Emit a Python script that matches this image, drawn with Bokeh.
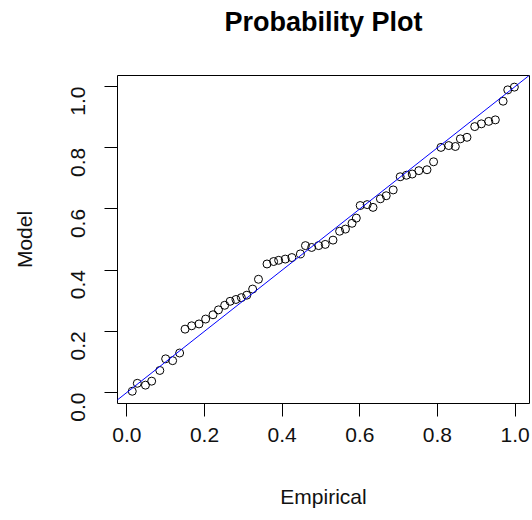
from bokeh.plotting import figure
from bokeh.models import Range1d, FixedTicker, Slope, ColumnDataSource, LinearAxis
from bokeh.embed import file_html
from bokeh.resources import INLINE
import math

empirical = [0.014, 0.027, 0.048, 0.064, 0.085, 0.100, 0.118, 0.136, 0.150, 0.167,
             0.186, 0.203, 0.222, 0.236, 0.252, 0.266, 0.281, 0.295, 0.309, 0.324,
             0.339, 0.361, 0.378, 0.391, 0.408, 0.425, 0.447, 0.460, 0.476, 0.494,
             0.511, 0.531, 0.548, 0.563, 0.580, 0.591, 0.601, 0.619, 0.634, 0.653,
             0.668, 0.686, 0.704, 0.720, 0.735, 0.752, 0.773, 0.790, 0.809, 0.829,
             0.846, 0.859, 0.876, 0.896, 0.913, 0.932, 0.949, 0.969, 0.981, 0.998]
model = [0.004, 0.030, 0.024, 0.037, 0.072, 0.110, 0.104, 0.129, 0.207, 0.218,
         0.224, 0.240, 0.254, 0.270, 0.285, 0.298, 0.304, 0.310, 0.318, 0.338,
         0.370, 0.420, 0.428, 0.432, 0.436, 0.441, 0.453, 0.480, 0.474, 0.480,
         0.484, 0.498, 0.527, 0.534, 0.553, 0.570, 0.611, 0.614, 0.605, 0.633,
         0.643, 0.662, 0.705, 0.710, 0.714, 0.725, 0.728, 0.754, 0.801, 0.807,
         0.804, 0.829, 0.834, 0.869, 0.878, 0.886, 0.891, 0.952, 0.989, 0.998]
ticks = [0.0, 0.2, 0.4, 0.6, 0.8, 1.0]
tick_labels = ["0.0", "0.2", "0.4", "0.6", "0.8", "1.0"]
title_text = "Probability Plot"

FONT = "Liberation Sans"

p = figure(width=532, height=520, output_backend="svg", toolbar_location=None,
           x_range=Range1d(-0.024, 1.037), y_range=Range1d(-0.036, 1.036),
           min_border_left=117, min_border_right=3, min_border_top=75, min_border_bottom=117,
           x_axis_label="Empirical", y_axis_label="Model")

p.background_fill_color = "white"
p.border_fill_color = "white"
p.outline_line_color = "black"
p.outline_line_width = 1
p.grid.visible = False

xb = p.below[0]
yl = p.left[0]

for ax in (xb, yl):
    ax.ticker = FixedTicker(ticks=ticks)
    ax.major_label_overrides = {t: l for t, l in zip(ticks, tick_labels)}
    ax.axis_line_color = None
    ax.major_tick_out = 13
    ax.major_tick_in = 0
    ax.minor_tick_out = 0
    ax.minor_tick_in = 0
    ax.major_tick_line_color = "black"
    ax.major_label_text_font = FONT
    ax.major_label_text_font_size = "21px"
    ax.major_label_text_color = "#111111"
    ax.axis_label_text_font = FONT
    ax.axis_label_text_font_size = "21px"
    ax.axis_label_text_font_style = "normal"
    ax.axis_label_text_color = "#111111"

xb.major_label_standoff = 11
xb.axis_label_standoff = 40
yl.major_label_standoff = 26
yl.axis_label_standoff = 26
yl.major_label_orientation = math.pi / 2

# title drawn as the label of a bare axis above the frame
top = LinearAxis(ticker=FixedTicker(ticks=[]), axis_label=title_text)
top.axis_line_color = None
top.major_tick_out = 0
top.major_tick_in = 0
top.minor_tick_out = 0
top.minor_tick_in = 0
top.major_label_text_alpha = 0
top.axis_label_text_font = FONT
top.axis_label_text_font_size = "27px"
top.axis_label_text_font_style = "bold"
top.axis_label_text_color = "black"
top.axis_label_standoff = 39
p.add_layout(top, "above")

src = ColumnDataSource(dict(x=empirical, y=model))
p.scatter("x", "y", source=src, marker="circle", size=8, fill_color=None,
          line_color="black", line_width=1)

p.add_layout(Slope(gradient=1, y_intercept=0, line_color="blue", line_width=1))

open("out.html", "w").write(file_html(p, INLINE))
